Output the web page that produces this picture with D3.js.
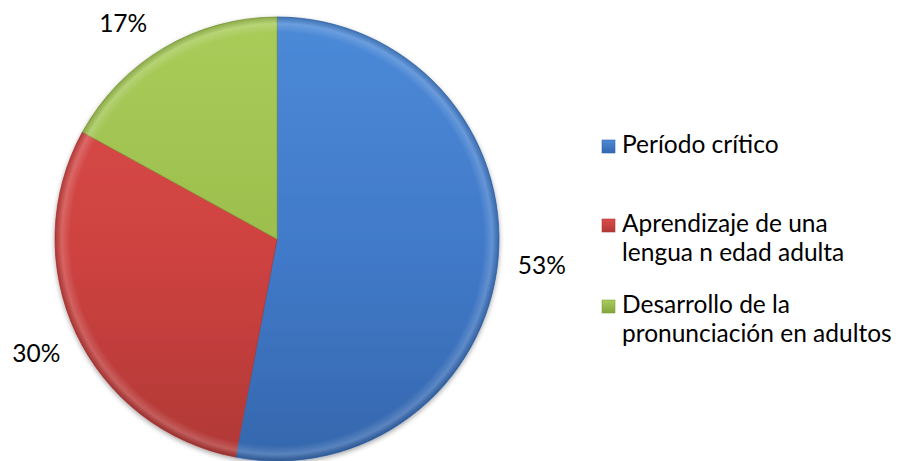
<!DOCTYPE html>
<html>
<head>
<meta charset="utf-8">
<script src="https://cdn.jsdelivr.net/npm/d3@7"></script>
<style>
  body { margin: 0; background: #fff; }
  text { font-family: Lato, "Open Sans", sans-serif; fill: #000; }
</style>
</head>
<body>
<div id="chart"></div>
<script>
const categories = ["Período crítico", "Aprendizaje de una lengua n edad adulta", "Desarrollo de la pronunciación en adultos"];
const legendLines = [["Período crítico"], ["Aprendizaje de una", "lengua n edad adulta"], ["Desarrollo de la", "pronunciación en adultos"]];
const values = [53, 30, 17];
const labels = ["53%", "30%", "17%"];
const colors = [
  { top: "#4c8ad8", base: "#4079c8", bottom: "#3567ad" },
  { top: "#dc4c4a", base: "#cd4240", bottom: "#b03836" },
  { top: "#a9cc5a", base: "#9bbd4c", bottom: "#84a43c" }
];

const width = 902, height = 461;
const cx = 277, cy = 239, radius = 222;
const labelRadius = 266;

const svg = d3.select("#chart").append("svg")
  .attr("width", width)
  .attr("height", height);

const defs = svg.append("defs");

// soft shadow under the pie
const shadow = defs.append("filter").attr("id", "shadow")
  .attr("x", "-10%").attr("y", "-10%").attr("width", "120%").attr("height", "120%");
shadow.append("feGaussianBlur").attr("in", "SourceAlpha").attr("stdDeviation", 2.5);
shadow.append("feOffset").attr("dx", 0).attr("dy", 1.5);
shadow.append("feComponentTransfer").append("feFuncA").attr("type", "linear").attr("slope", 0.35);
const merge = shadow.append("feMerge");
merge.append("feMergeNode");
merge.append("feMergeNode").attr("in", "SourceGraphic");

colors.forEach((c, i) => {
  // slice gradient, in plot coordinates (origin = pie centre)
  const g = defs.append("linearGradient").attr("id", "grad" + i)
    .attr("gradientUnits", "userSpaceOnUse")
    .attr("x1", 0).attr("y1", -radius).attr("x2", 0).attr("y2", radius);
  g.append("stop").attr("offset", "0%").attr("stop-color", c.top);
  g.append("stop").attr("offset", "55%").attr("stop-color", c.base);
  g.append("stop").attr("offset", "100%").attr("stop-color", c.bottom);

  const m = defs.append("linearGradient").attr("id", "mark" + i)
    .attr("x1", 0).attr("y1", 0).attr("x2", 0).attr("y2", 1);
  m.append("stop").attr("offset", "0%").attr("stop-color", c.top);
  m.append("stop").attr("offset", "100%").attr("stop-color", c.bottom);
});

// rim highlight (bevel look)
const rim = defs.append("radialGradient").attr("id", "rim")
  .attr("gradientUnits", "userSpaceOnUse")
  .attr("cx", 0).attr("cy", 0).attr("r", radius);
rim.append("stop").attr("offset", "93%").attr("stop-color", "#fff").attr("stop-opacity", 0);
rim.append("stop").attr("offset", "97%").attr("stop-color", "#fff").attr("stop-opacity", 0.18);
rim.append("stop").attr("offset", "100%").attr("stop-color", "#000").attr("stop-opacity", 0.15);

const pie = d3.pie().sort(null).value(d => d);
const arcs = pie(values);
const arc = d3.arc().innerRadius(0).outerRadius(radius);

const plot = svg.append("g").attr("transform", `translate(${cx},${cy})`);

plot.append("g").attr("filter", "url(#shadow)")
  .selectAll("path.slice")
  .data(arcs)
  .join("path")
  .attr("class", "slice")
  .attr("d", arc)
  .attr("fill", (d, i) => `url(#grad${i})`)
  .attr("stroke", (d, i) => colors[i].bottom)
  .attr("stroke-width", 0.8);

plot.selectAll("path.rim")
  .data(arcs)
  .join("path")
  .attr("class", "rim")
  .attr("d", arc)
  .attr("fill", "url(#rim)");

// data labels on a circle, pushed down when they would leave the top
const minLabelY = 22 - cy;
plot.selectAll("text.label")
  .data(arcs)
  .join("text")
  .attr("class", "label")
  .each(function (d) {
    const a = (d.startAngle + d.endAngle) / 2;
    let x = labelRadius * Math.sin(a);
    let y = -labelRadius * Math.cos(a);
    if (y < minLabelY) {
      y = minLabelY;
      x = Math.sign(x) * Math.sqrt(labelRadius * labelRadius - y * y);
    }
    d3.select(this).attr("x", x).attr("y", y);
  })
  .attr("text-anchor", "middle")
  .attr("dominant-baseline", "central")
  .style("font-size", "24.5px")
  .text((d, i) => labels[i]);

// legend
const legendX = 602, lineHeight = 29;
const legendTop = [153, 232, 313];
const legend = svg.append("g").attr("class", "legend");
legendLines.forEach((lines, i) => {
  const g = legend.append("g").attr("transform", `translate(${legendX},${legendTop[i]})`);
  g.append("rect")
    .attr("x", 0).attr("y", -13)
    .attr("width", 13).attr("height", 13)
    .attr("fill", `url(#mark${i})`)
    .attr("stroke", colors[i].bottom)
    .attr("stroke-width", 0.6);
  const t = g.append("text").attr("x", 20).attr("y", 0).style("font-size", "24.5px");
  lines.forEach((line, j) => {
    t.append("tspan").attr("x", 20).attr("dy", j === 0 ? 0 : lineHeight).text(line);
  });
});
</script>
</body>
</html>
